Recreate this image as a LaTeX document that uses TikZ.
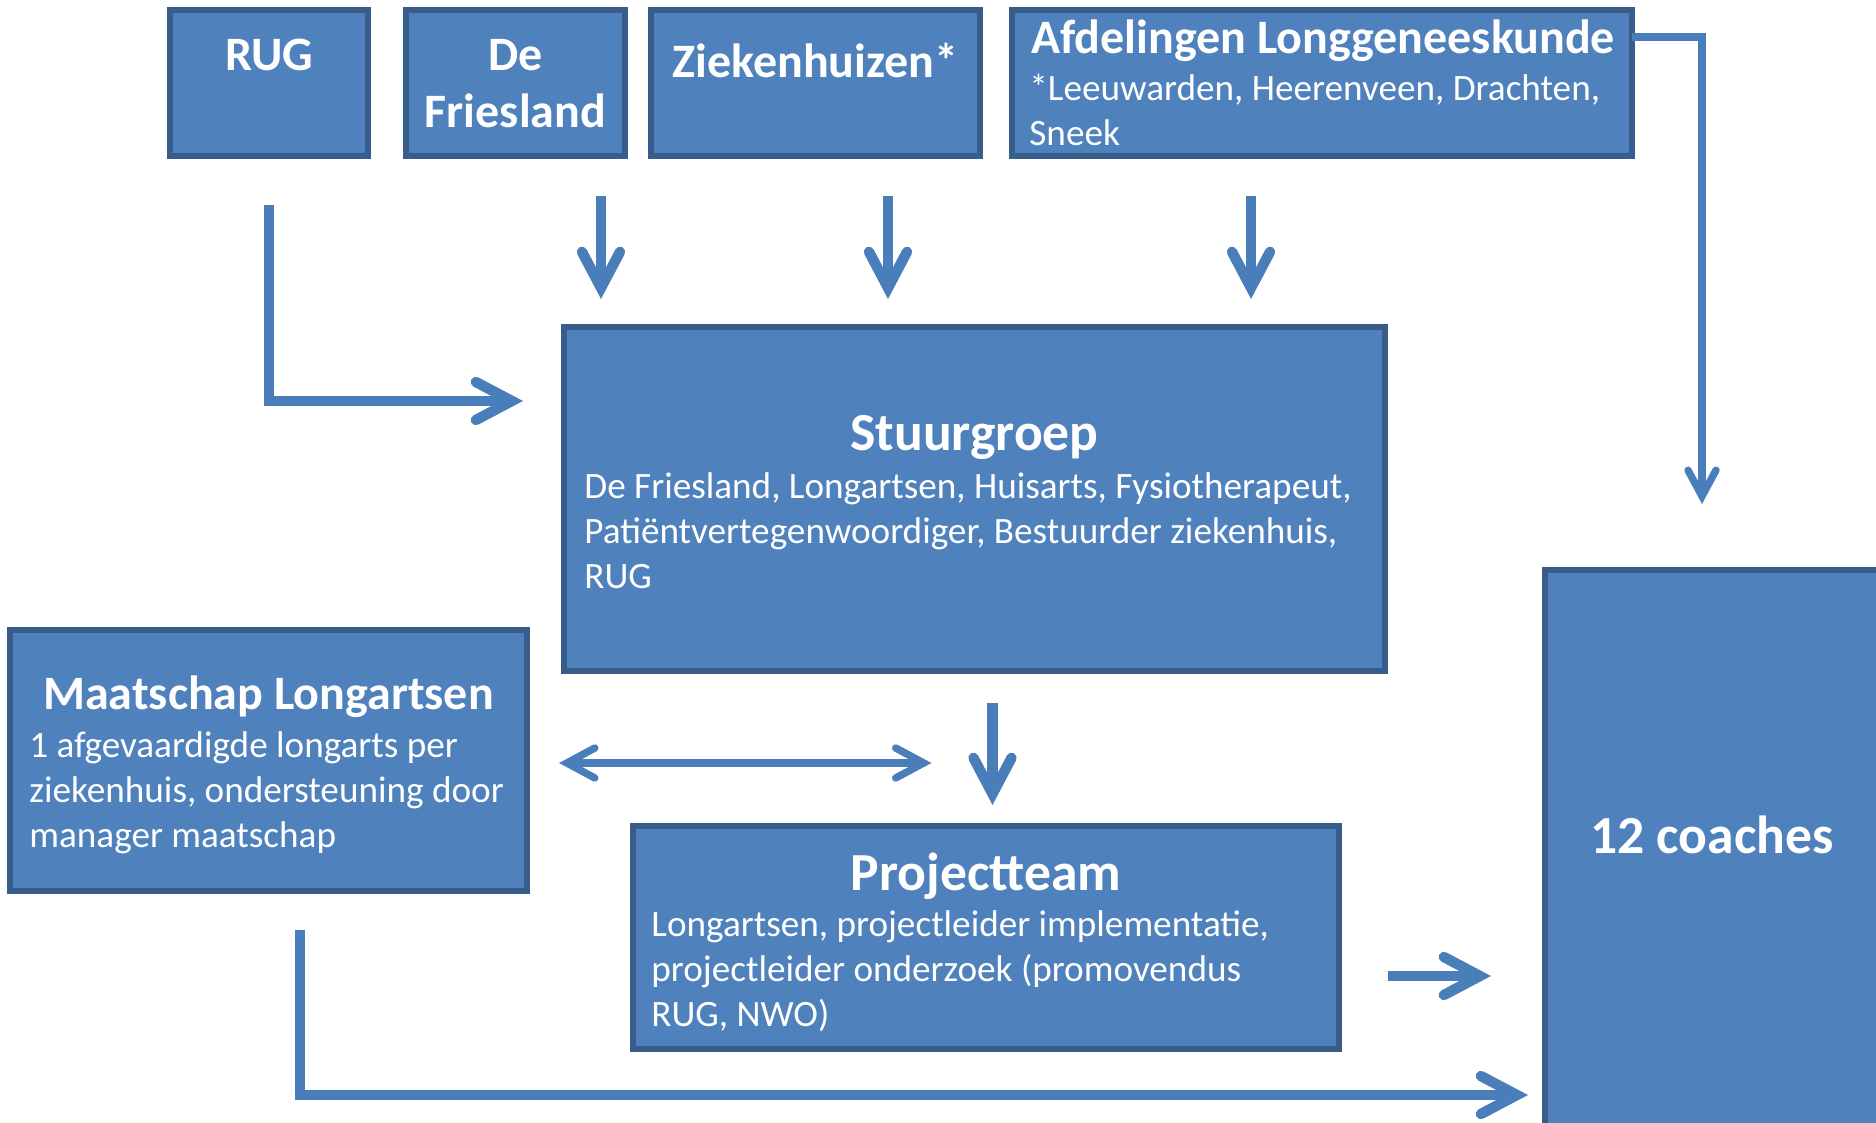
\documentclass[tikz,border=0pt]{standalone}
\usepackage{fontspec}
\setmainfont{Carlito}
\usepackage{xcolor}
\usepackage{tikz}
\usetikzlibrary{positioning, arrows.meta, calc}
\definecolor{boxblue}{HTML}{4F81BD}
\definecolor{boxedge}{HTML}{385D8A}
\definecolor{arrowblue}{HTML}{4A7EBB}
\tikzstyle{orgbox} = [rectangle, draw=boxedge, fill=boxblue, line width=3pt, inner sep=0pt, outer sep=0pt, anchor=north west]
\tikzstyle{boxtitle} = [text=white, font=\bfseries\fontsize{24}{28.5}\selectfont, inner sep=0pt, anchor=base]
\tikzstyle{bigtitle} = [boxtitle, font=\bfseries\fontsize{26.8}{30}\selectfont]
\tikzstyle{body} = [text=white, font=\fontsize{18.6}{22.5}\selectfont, inner sep=0pt, anchor=base west, text width=420pt, align=flush left]
\tikzstyle{line} = [draw=arrowblue, line width=5.2pt, -{Straight Barb[length=18pt, width=19pt, line cap=round, line join=miter]}]
\tikzstyle{thinline} = [draw=arrowblue, line width=3.7pt, -{Straight Barb[length=13pt, width=14pt, line cap=round, line join=miter]}]
\tikzstyle{dline} = [draw=arrowblue, line width=3.7pt, {Straight Barb[length=14pt, width=15pt, line cap=round, line join=miter]}-{Straight Barb[length=14pt, width=15pt, line cap=round, line join=miter]}]

\begin{document}
\begin{tikzpicture}[x=0.5pt, y=-0.5pt]
        \useasboundingbox (0,0) rectangle (1876,1123);
        \clip (0,0) rectangle (1876,1123);

        % Boxes
        \node (rug) [orgbox, minimum width=99pt, minimum height=73pt] at (170,10) {};
        \node (fries) [orgbox, minimum width=109.5pt, minimum height=73pt] at (406,10) {};
        \node (zieken) [orgbox, minimum width=164.5pt, minimum height=73pt] at (651,10) {};
        \node (afd) [orgbox, minimum width=310pt, minimum height=73pt] at (1012,10) {};
        \node (stuur) [orgbox, minimum width=410.5pt, minimum height=172pt] at (564,327) {};
        \node (maat) [orgbox, minimum width=258.5pt, minimum height=130.5pt] at (10,630) {};
        \node (proj) [orgbox, minimum width=353pt, minimum height=111.5pt] at (633,826) {};
        \node (coach) [orgbox, minimum width=210pt, minimum height=320pt] at (1545,570) {};

        % Texts
        \node (rugT) [boxtitle] at ($(rug.north)+(0,61)$) {RUG};
        \node (friesT) [boxtitle, text width=200pt, align=center] at ($(fries.north)+(0,61)$) {De\\Friesland};
        \node (ziekT) [boxtitle] at ($(zieken.north)+(0,67.5)$) {Ziekenhuizen*};
        \node (afdT) [boxtitle, anchor=base west] at ($(afd.north west)+(19,43.5)$) {Afdelingen Longgeneeskunde};
        \node (afdB) [body] at ($(afd.north west)+(17,90.5)$) {*Leeuwarden, Heerenveen, Drachten,\\Sneek};
        \node (stuurT) [bigtitle] at ($(stuur.north)+(0,123.5)$) {Stuurgroep};
        \node (stuurB) [body] at ($(stuur.north west)+(20,171)$) {De Friesland, Longartsen, Huisarts, Fysiotherapeut,\\Patiëntvertegenwoordiger, Bestuurder ziekenhuis,\\RUG};
        \node (maatT) [boxtitle] at ($(maat.north)+(0,79.5)$) {Maatschap Longartsen};
        \node (maatB) [body] at ($(maat.north west)+(19,127)$) {1 afgevaardigde longarts per\\ziekenhuis, ondersteuning door\\manager maatschap};
        \node (projT) [bigtitle] at ($(proj.north)+(0,64)$) {Projectteam};
        \node (projB) [body] at ($(proj.north west)+(18,110)$) {Longartsen, projectleider implementatie,\\projectleider onderzoek (promovendus\\RUG, NWO)};
        \node (coachT) [bigtitle] at ($(coach.north west)+(167,283)$) {12 coaches};

        % Edges
        \coordinate (friesA) at ($(fries.south)+(85.5,0)$);
        \coordinate (ziekA) at ($(zieken.south)+(72.5,0)$);
        \coordinate (afdA) at ($(afd.south)+(-71,0)$);
        \coordinate (afdR) at ($(afd.north east)+(0,27)$);
        \coordinate (stuurS) at ($(stuur.south)+(18,0)$);
        \coordinate (maatE) at ($(maat.east)+(0,2.5)$);
        \coordinate (projE) at ($(proj.east)+(0,38.5)$);
        \coordinate (maatS) at ($(maat.south)+(31.5,0)$);

        \draw [line, shorten <=24.5pt, shorten >=20.5pt] (rug.south) |- ($(stuur.north west)+(0,74)$);
        \draw [line, shorten <=20pt, shorten >=14pt] (friesA) -- (friesA |- stuur.north);
        \draw [line, shorten <=20pt, shorten >=14pt] (ziekA) -- (ziekA |- stuur.north);
        \draw [line, shorten <=20pt, shorten >=14pt] (afdA) -- (afdA |- stuur.north);
        \draw [thinline, shorten >=33pt] (afdR) -| ($(coach.north west)+(157,0)$);
        \draw [line, shorten <=16pt, shorten >=10.5pt] (stuurS) -- (stuurS |- proj.north);
        \draw [dline, shorten <=16pt] (maatE) -- ($(maatE -| stuur.south)+(-43,0)$);
        \draw [line, shorten <=24.5pt, shorten >=27pt] (projE) -- (projE -| coach.west);
        \draw [line, shorten <=19.5pt, shorten >=8.5pt] (maatS) |- ($(proj.south -| coach.west)+(0,46)$);

    \end{tikzpicture}
\end{document}
